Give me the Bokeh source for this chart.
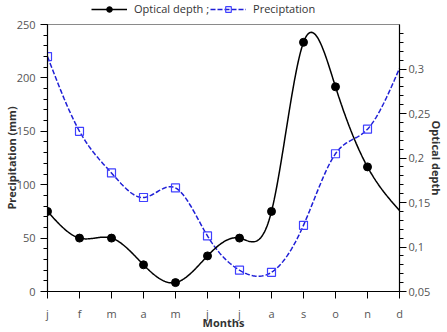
import numpy as np
from bokeh.plotting import figure
from bokeh.layouts import column
from bokeh.models import (Range1d, LinearAxis, SingleIntervalTicker, FixedTicker,
                          CustomJSTickFormatter, Legend, LegendItem)
from bokeh.embed import file_html
from bokeh.resources import INLINE

# Monthly data
months = ["j", "f", "m", "a", "m", "j", "j", "a", "s", "o", "n", "d"]
optical_depth = [0.14, 0.11, 0.11, 0.08, 0.06, 0.09, 0.11, 0.14, 0.33, 0.28, 0.19, 0.141]
precipitation = [220, 150, 111, 88, 97, 52, 20, 18, 62, 129, 152, 209]
# markers are shown for January..November only
n_marked = 11

FONT = "Open Sans"

# shared styles
OD_LINE = dict(line_color="black", line_width=1.5)
OD_MARK = dict(marker="circle", size=8, fill_color="black", line_color="black")
PR_LINE = dict(line_color="#1f1fd6", line_width=1.5, line_dash="5 2")
PR_MARK = dict(marker="square", size=8, fill_alpha=0, line_color="#4040ff", line_width=1.2)


def natural_spline(x, y, num=400):
    """Natural cubic spline through (x, y), evaluated on a dense grid."""
    x = np.asarray(x, float)
    y = np.asarray(y, float)
    n = len(x)
    h = np.diff(x)
    A = np.zeros((n, n))
    b = np.zeros(n)
    A[0, 0] = A[-1, -1] = 1.0
    for i in range(1, n - 1):
        A[i, i - 1] = h[i - 1]
        A[i, i] = 2 * (h[i - 1] + h[i])
        A[i, i + 1] = h[i]
        b[i] = 3 * ((y[i + 1] - y[i]) / h[i] - (y[i] - y[i - 1]) / h[i - 1])
    c = np.linalg.solve(A, b)
    bb = (np.diff(y) / h) - h * (2 * c[:-1] + c[1:]) / 3
    d = np.diff(c) / (3 * h)
    xs = np.linspace(x[0], x[-1], num)
    idx = np.clip(np.searchsorted(x, xs, side="right") - 1, 0, n - 2)
    t = xs - x[idx]
    ys = y[idx] + bb[idx] * t + c[idx] * t ** 2 + d[idx] * t ** 3
    return xs.tolist(), ys.tolist()


xpos = list(range(len(months)))

# ---- main chart ----
p = figure(width=447, height=316, output_backend="svg", toolbar_location=None,
           x_range=Range1d(0, 11), y_range=Range1d(0, 250),
           min_border_left=47, min_border_right=48, min_border_top=8, min_border_bottom=40)
p.extra_y_ranges = {"od": Range1d(0.05, 0.35)}
p.xgrid.visible = False
p.ygrid.visible = False
p.outline_line_color = "#8a8a8a"
p.outline_line_width = 1
p.background_fill_color = "white"
p.border_fill_color = "white"

xs_p, ys_p = natural_spline(xpos, precipitation)
xs_o, ys_o = natural_spline(xpos, optical_depth)

p.line(xs_p, ys_p, **PR_LINE)
p.scatter(xpos[:n_marked], precipitation[:n_marked], **PR_MARK)
p.line(xs_o, ys_o, y_range_name="od", **OD_LINE)
p.scatter(xpos[:n_marked], optical_depth[:n_marked], y_range_name="od", **OD_MARK)


def style_axis(ax):
    ax.axis_line_color = "black"
    ax.axis_line_width = 1.2
    ax.major_tick_line_color = "black"
    ax.minor_tick_line_color = "black"
    ax.major_tick_in = 0
    ax.major_tick_out = 7
    ax.minor_tick_in = 0
    ax.minor_tick_out = 4
    ax.major_label_text_font = FONT
    ax.major_label_text_font_size = "11px"
    ax.major_label_text_color = "#555555"
    ax.axis_label_text_font = FONT
    ax.axis_label_text_font_size = "11px"
    ax.axis_label_text_font_style = "bold"
    ax.axis_label_text_color = "#333333"


# bottom axis: months
xa = p.xaxis[0]
style_axis(xa)
xa.ticker = FixedTicker(ticks=xpos, minor_ticks=[])
xa.major_label_overrides = {i: m for i, m in enumerate(months)}
xa.axis_label = "Months"
xa.major_label_standoff = 7
xa.axis_label_standoff = -9

# left axis: precipitation
ya = p.yaxis[0]
style_axis(ya)
ya.ticker = SingleIntervalTicker(interval=50, num_minor_ticks=5)
ya.axis_label = "Precipitation (mm)"
ya.major_label_standoff = 5
ya.axis_label_standoff = -5

# right axis: optical depth with decimal comma
ra = LinearAxis(y_range_name="od", axis_label="Optical depth")
style_axis(ra)
ra.ticker = SingleIntervalTicker(interval=0.05, num_minor_ticks=5)
ra.formatter = CustomJSTickFormatter(
    code="return (Math.round(tick * 100) / 100).toString().replace('.', ',');")
ra.major_label_standoff = 2
ra.axis_label_standoff = -4
p.add_layout(ra, "right")

# ---- legend strip above the chart ----
lg = figure(width=447, height=16, output_backend="svg", toolbar_location=None,
            x_range=Range1d(0, 1), y_range=Range1d(0, 1),
            x_axis_location=None, y_axis_location=None,
            min_border_left=0, min_border_right=0, min_border_top=0, min_border_bottom=0)
lg.outline_line_color = None
lg.xgrid.visible = False
lg.ygrid.visible = False
nan = [float("nan")]
k_ol = lg.line(nan, nan, **OD_LINE)
k_os = lg.scatter(nan, nan, **OD_MARK)
k_pl = lg.line(nan, nan, **PR_LINE)
k_ps = lg.scatter(nan, nan, **PR_MARK)

legend = Legend(items=[
    LegendItem(label="Optical depth ;", renderers=[k_ol, k_os]),
    LegendItem(label="Preciptation", renderers=[k_pl, k_ps]),
], orientation="horizontal", location=(44, 0))
legend.label_text_font = FONT
legend.label_text_font_size = "11px"
legend.label_text_color = "#333333"
legend.glyph_width = 36
legend.glyph_height = 14
legend.label_height = 14
legend.label_standoff = 7
legend.spacing = 1
legend.padding = 1
legend.margin = 0
legend.border_line_color = None
legend.background_fill_alpha = 0
lg.add_layout(legend)

page = column(lg, p, spacing=0)
open("out.html", "w").write(file_html(page, INLINE))
